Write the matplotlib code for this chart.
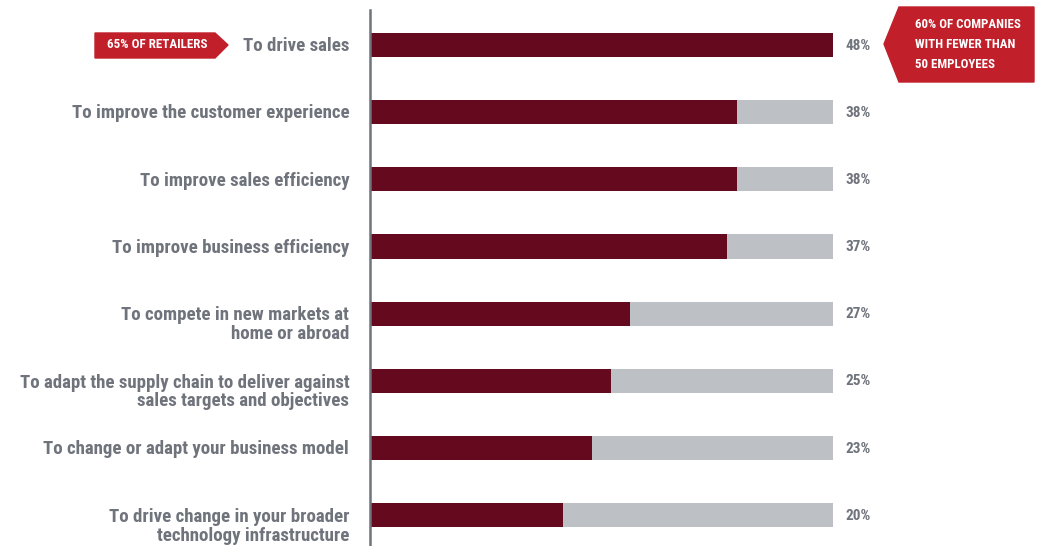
import matplotlib.pyplot as plt
from matplotlib.patches import Polygon
from matplotlib import font_manager

# reasons for investing, share of respondents (%)
reasons = [
    "To drive sales",
    "To improve the customer experience",
    "To improve sales efficiency",
    "To improve business efficiency",
    "To compete in new markets at\nhome or abroad",
    "To adapt the supply chain to deliver against\nsales targets and objectives",
    "To change or adapt your business model",
    "To drive change in your broader\ntechnology infrastructure",
]
shares = [48, 38, 38, 37, 27, 25, 23, 20]
value_labels = ["48%", "38%", "38%", "37%", "27%", "25%", "23%", "20%"]

left_note = "65% OF RETAILERS"
right_note = "60% OF COMPANIES\nWITH FEWER THAN\n50 EMPLOYEES"

DARK = "#650a1e"
TRACK = "#bdc1c5"
GREY = "#6f737b"
RED = "#c1202b"

# condensed bold face, first one that is installed
names = {f.name for f in font_manager.fontManager.ttflist}
FONT = "DejaVu Sans"
for cand in ["Roboto Condensed", "Archivo Narrow", "PT Sans Narrow",
             "Barlow Condensed", "Liberation Sans Narrow"]:
    if cand in names:
        FONT = cand
        break

W, H = 1039, 546
fig = plt.figure(figsize=(W / 100, H / 100), dpi=100)
ax = fig.add_axes([370 / W, 0, (833 - 370) / W, 1 - 10 / H])

pos = list(range(len(reasons)))
top = max(shares)
ax.barh(pos, [top] * len(pos), height=0.36, color=TRACK, zorder=1)
ax.barh(pos, shares, height=0.36, color=DARK, zorder=2)

ax.set_xlim(0, top)
ax.set_ylim(7.46, -0.52)
ax.axis("off")
ax.axvline(0, color=GREY, lw=1.8, zorder=3, clip_on=False)

for p, name, lab in zip(pos, reasons, value_labels):
    # first line sits level with the bar, extra lines hang below
    extra = name.count("\n")
    ax.annotate(name, (0, p), xytext=(-15, -1 - 7 * extra), textcoords="offset points",
                ha="right", va="center", fontsize=13.6, fontweight="bold",
                color=GREY, family=FONT, linespacing=1.05)
    ax.annotate(lab, (top, p), xytext=(9, -0.5), textcoords="offset points",
                ha="left", va="center", fontsize=11, fontweight="bold",
                color=GREY, family=FONT)


def px(pts):
    return [(x / W, 1 - y / H) for x, y in pts]


fig.patches.append(Polygon(px([(95, 33), (215, 33), (228, 45), (215, 58), (95, 58)]),
                           closed=True, color=RED, transform=fig.transFigure))
fig.text(157 / W, 1 - 45 / H, left_note, ha="center", va="center", fontsize=9.4,
         fontweight="bold", color="white", family=FONT)

fig.patches.append(Polygon(px([(899, 7), (1034, 7), (1034, 82), (899, 82), (884, 44)]),
                           closed=True, color=RED, transform=fig.transFigure))
fig.text(915 / W, 1 - 44 / H, right_note, ha="left", va="center", fontsize=9.3,
         fontweight="bold", color="white", family=FONT, linespacing=1.7)

fig.savefig("out.png", dpi=100)
